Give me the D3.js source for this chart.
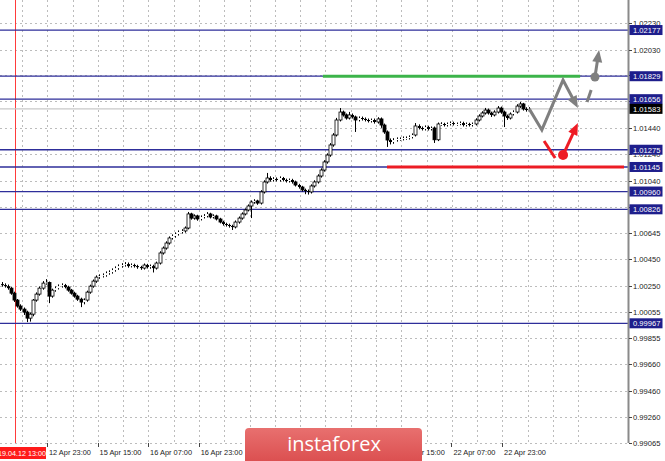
<!DOCTYPE html>
<html><head><meta charset="utf-8">
<script src="https://cdn.jsdelivr.net/npm/d3@7"></script>
<style>html,body{margin:0;padding:0;background:#fff;overflow:hidden}</style>
</head><body><svg id="c" width="665" height="461"></svg>
<script>
// ---- DATA ----
const opens=[1.00262,1.00255,1.00247,1.00232,1.00194,1.00142,1.00097,1.00074,1.00051,1.00006,
1.00036,1.00142,1.00187,1.00232,1.00270,1.00275,1.00172,1.00217,1.00232,1.00247,
1.00255,1.00240,1.00217,1.00194,1.00172,1.00149,1.00127,1.00142,1.00202,1.00247,
1.00285,1.00315,1.00323,1.00330,1.00345,1.00353,1.00368,1.00383,1.00398,1.00406,
1.00413,1.00398,1.00406,1.00398,1.00391,1.00383,1.00406,1.00391,1.00398,1.00383,
1.00421,1.00497,1.00534,1.00572,1.00610,1.00625,1.00640,1.00655,1.00663,1.00685,
1.00791,1.00760,1.00776,1.00753,1.00768,1.00776,1.00791,1.00768,1.00776,1.00753,
1.00730,1.00715,1.00708,1.00700,1.00693,1.00730,1.00760,1.00791,1.00821,1.00851,
1.00881,1.00889,1.00873,1.00957,1.01032,1.01062,1.01047,1.01055,1.01047,1.01062,
1.01047,1.01039,1.01047,1.01032,1.01009,1.00994,1.00972,1.00964,1.00957,1.01002,
1.01032,1.01077,1.01122,1.01183,1.01235,1.01311,1.01386,1.01499,1.01559,1.01537,
1.01514,1.01537,1.01522,1.01499,1.01514,1.01507,1.01499,1.01491,1.01499,1.01484,
1.01507,1.01461,1.01409,1.01348,1.01333,1.01348,1.01356,1.01356,1.01363,1.01363,
1.01371,1.01386,1.01454,1.01439,1.01431,1.01446,1.01431,1.01439,1.01350,1.01469,
1.01469,1.01461,1.01469,1.01476,1.01469,1.01469,1.01476,1.01461,1.01469,1.01461,
1.01469,1.01499,1.01529,1.01552,1.01574,1.01552,1.01537,1.01559,1.01589,1.01559,
1.01529,1.01514,1.01544,1.01559,1.01604,1.01620,1.01582,1.01574];
const closes=[1.00255,1.00247,1.00232,1.00194,1.00142,1.00097,1.00074,1.00051,1.00006,1.00036,
1.00142,1.00187,1.00232,1.00270,1.00275,1.00172,1.00217,1.00232,1.00247,1.00255,
1.00240,1.00217,1.00194,1.00172,1.00149,1.00127,1.00142,1.00202,1.00247,1.00285,
1.00315,1.00323,1.00330,1.00345,1.00353,1.00368,1.00383,1.00398,1.00406,1.00413,
1.00398,1.00406,1.00398,1.00391,1.00383,1.00406,1.00391,1.00398,1.00383,1.00421,
1.00497,1.00534,1.00572,1.00610,1.00625,1.00640,1.00655,1.00663,1.00685,1.00791,
1.00760,1.00776,1.00753,1.00768,1.00776,1.00791,1.00768,1.00776,1.00753,1.00730,
1.00715,1.00708,1.00700,1.00693,1.00730,1.00760,1.00791,1.00821,1.00851,1.00881,
1.00889,1.00873,1.00957,1.01032,1.01062,1.01047,1.01055,1.01047,1.01062,1.01047,
1.01039,1.01047,1.01032,1.01009,1.00994,1.00972,1.00964,1.00957,1.01002,1.01032,
1.01077,1.01122,1.01183,1.01235,1.01311,1.01386,1.01499,1.01559,1.01537,1.01514,
1.01537,1.01522,1.01499,1.01514,1.01507,1.01499,1.01491,1.01499,1.01484,1.01507,
1.01461,1.01409,1.01348,1.01333,1.01348,1.01356,1.01356,1.01363,1.01363,1.01371,
1.01386,1.01454,1.01439,1.01431,1.01446,1.01431,1.01439,1.01350,1.01469,1.01469,
1.01461,1.01469,1.01476,1.01469,1.01469,1.01476,1.01461,1.01469,1.01461,1.01469,
1.01499,1.01529,1.01552,1.01574,1.01552,1.01537,1.01559,1.01589,1.01559,1.01529,
1.01514,1.01544,1.01559,1.01604,1.01620,1.01582,1.01574,1.01583];
const highs=[1.00278,1.00268,1.00259,1.00240,1.00205,1.00150,1.00110,1.00086,1.00062,1.00048,
1.00150,1.00200,1.00245,1.00285,1.00300,1.00282,1.00228,1.00245,1.00260,1.00268,
1.00264,1.00250,1.00226,1.00205,1.00182,1.00160,1.00155,1.00213,1.00258,1.00297,
1.00328,1.00336,1.00343,1.00358,1.00366,1.00381,1.00396,1.00411,1.00420,1.00428,
1.00425,1.00418,1.00416,1.00408,1.00400,1.00418,1.00415,1.00410,1.00408,1.00432,
1.00510,1.00546,1.00585,1.00622,1.00637,1.00652,1.00667,1.00676,1.00697,1.00806,
1.00800,1.00788,1.00785,1.00780,1.00790,1.00805,1.00800,1.00788,1.00785,1.00762,
1.00740,1.00725,1.00718,1.00710,1.00742,1.00772,1.00803,1.00833,1.00863,1.00893,
1.00902,1.00898,1.00970,1.01045,1.01100,1.01075,1.01068,1.01066,1.01074,1.01070,
1.01057,1.01058,1.01056,1.01042,1.01018,1.01003,1.00982,1.00975,1.01014,1.01045,
1.01090,1.01135,1.01196,1.01248,1.01325,1.01400,1.01515,1.01589,1.01570,1.01548,
1.01560,1.01548,1.01532,1.01526,1.01525,1.01518,1.01510,1.01510,1.01510,1.01520,
1.01518,1.01472,1.01420,1.01360,1.01362,1.01368,1.01368,1.01375,1.01375,1.01383,
1.01398,1.01476,1.01466,1.01450,1.01458,1.01456,1.01450,1.01450,1.01480,1.01482,
1.01478,1.01480,1.01488,1.01486,1.01480,1.01488,1.01486,1.01480,1.01478,1.01480,
1.01512,1.01542,1.01565,1.01590,1.01585,1.01562,1.01572,1.01604,1.01600,1.01570,
1.01540,1.01556,1.01572,1.01618,1.01635,1.01628,1.01595,1.01596];
const lows=[1.00243,1.00236,1.00220,1.00182,1.00128,1.00085,1.00060,1.00030,0.99976,0.99980,
1.00020,1.00130,1.00175,1.00220,1.00258,1.00119,1.00160,1.00205,1.00222,1.00236,
1.00230,1.00205,1.00183,1.00160,1.00136,1.00089,1.00110,1.00130,1.00190,1.00235,
1.00272,1.00302,1.00312,1.00318,1.00333,1.00341,1.00356,1.00370,1.00386,1.00394,
1.00386,1.00388,1.00387,1.00378,1.00370,1.00372,1.00380,1.00378,1.00350,1.00372,
1.00410,1.00485,1.00522,1.00560,1.00598,1.00612,1.00628,1.00643,1.00650,1.00675,
1.00748,1.00748,1.00740,1.00742,1.00757,1.00765,1.00757,1.00757,1.00742,1.00720,
1.00703,1.00696,1.00688,1.00670,1.00682,1.00718,1.00748,1.00780,1.00810,1.00760,
1.00868,1.00860,1.00862,1.00945,1.01020,1.01035,1.01035,1.01036,1.01035,1.01036,
1.01028,1.01028,1.01020,1.00998,1.00982,1.00960,1.00940,1.00937,1.00945,1.00990,
1.01020,1.01065,1.01110,1.01170,1.01222,1.01298,1.01375,1.01488,1.01525,1.01502,
1.01503,1.01510,1.01409,1.01488,1.01495,1.01488,1.01480,1.01480,1.01472,1.01472,
1.01440,1.01395,1.01296,1.01315,1.01320,1.01336,1.01343,1.01345,1.01350,1.01352,
1.01360,1.01375,1.01428,1.01420,1.01420,1.01420,1.01420,1.01326,1.01340,1.01456,
1.01450,1.01450,1.01458,1.01458,1.01456,1.01460,1.01450,1.01450,1.01450,1.01450,
1.01458,1.01488,1.01518,1.01540,1.01540,1.01522,1.01526,1.01548,1.01546,1.01446,
1.01500,1.01503,1.01533,1.01548,1.01590,1.01570,1.01562,1.01565];

const levelValues=[1.02177,1.01829,1.01656,1.01275,1.01145,1.00960,1.00826,0.99967];
const currentPrice=1.01583;
const priceGrid=[1.02230,1.02030,1.01835,1.01640,1.01440,1.01240,1.01040,1.00845,1.00645,
1.00450,1.00250,1.00055,0.99855,0.99660,0.99460,0.99260,0.99065];
const priceLabels=[1.02230,1.02030,1.01440,1.01240,1.01040,1.00645,
1.00450,1.00250,1.00055,0.99855,0.99660,0.99460,0.99260,0.99065];
const timeLabels=["12 Apr 23:00","15 Apr 15:00","16 Apr 07:00","16 Apr 23:00","19 Apr 15:00","22 Apr 07:00","22 Apr 23:00"];
const timeTickIndex=[14.4,30.4,46.4,62.4,126.4,142.4,158.4];
const markerIndex=4.27, markerLabel="19.04.12 13:00";
const greenSegment=[[101.7,1.01829],[183.1,1.01829]];
const redSegment=[[122,1.01145],[197,1.01145]];
const grayPath=[[167,1.01583],[171,1.01424],[177.7,1.01800],[182.4,1.01589]];
const grayDash=[[185.3,1.01635],[186.6,1.01725]];
const grayDot=[187.8,1.01823], grayArrowEnd=[189.1,1.02026];
const redStroke=[[171.7,1.01341],[175.2,1.01213]];
const redDot=[177.7,1.01235], redArrowEnd=[182.4,1.01476];
const brand="instaforex";

// ---- CHART ----
const W=665,H=461, plotR=628, plotB=443;
const svg=d3.select("#c");
const x=d3.scaleLinear().domain([0,167]).range([1.5,1.5+167*3.16]);
const y=d3.scaleLinear().domain([0.99065,1.02230]).range([443,23]);
const gridIdx=d3.range(6.5,190,8);

const g=svg.append("g");
g.selectAll("line.vg").data(gridIdx.filter(i=>x(i)<plotR-2)).join("line")
 .attr("x1",d=>Math.round(x(d))+0.5).attr("x2",d=>Math.round(x(d))+0.5)
 .attr("y1",0).attr("y2",plotB).attr("stroke","#bcbcbc").attr("stroke-dasharray","2,3");
g.selectAll("line.hg").data(priceGrid).join("line")
 .attr("x1",0).attr("x2",plotR).attr("y1",d=>Math.round(y(d))+0.5).attr("y2",d=>Math.round(y(d))+0.5)
 .attr("stroke","#bcbcbc").attr("stroke-dasharray","2,3");

g.append("line").attr("x1",Math.round(x(markerIndex))+0.5).attr("x2",Math.round(x(markerIndex))+0.5)
 .attr("y1",0).attr("y2",plotB).attr("stroke","#ff3b3b").attr("stroke-width",1);

g.append("line").attr("x1",0).attr("x2",plotR).attr("y1",y(currentPrice)).attr("y2",y(currentPrice))
 .attr("stroke","#c8c8c8").attr("stroke-width",1.3);

g.selectAll("line.lv").data(levelValues).join("line")
 .attr("x1",0).attr("x2",plotR).attr("y1",d=>y(d)).attr("y2",d=>y(d))
 .attr("stroke","#2e2e9a").attr("stroke-width",1.3);

const seg=(s,c)=>g.append("line").attr("x1",x(s[0][0])).attr("x2",x(s[1][0]))
 .attr("y1",y(s[0][1])).attr("y2",y(s[1][1])).attr("stroke",c).attr("stroke-width",3);
seg(greenSegment,"#3cb44a");
seg(redSegment,"#ec1c24");

const bars=d3.range(closes.length).map(i=>({i,o:opens[i],h:highs[i],l:lows[i],c:closes[i]}));
const cg=g.append("g");
cg.selectAll("line.w").data(bars).join("line")
 .attr("x1",d=>Math.round(x(d.i))+0.5).attr("x2",d=>Math.round(x(d.i))+0.5)
 .attr("y1",d=>y(d.h)).attr("y2",d=>y(d.l)).attr("stroke","#000").attr("stroke-width",1);
cg.selectAll("rect").data(bars).join("rect")
 .attr("x",d=>Math.round(x(d.i))-1).attr("width",3)
 .attr("y",d=>y(Math.max(d.o,d.c))).attr("height",d=>Math.max(1,Math.abs(y(d.o)-y(d.c))))
 .attr("fill",d=>d.c>=d.o?"#fff":"#000").attr("stroke","#000").attr("stroke-width",d=>Math.abs(y(d.o)-y(d.c))>2?0.8:0);

function head(p1,p2,color,len,wid){
  const dx=p2[0]-p1[0], dy=p2[1]-p1[1], L=Math.hypot(dx,dy), ux=dx/L, uy=dy/L;
  const bx=p2[0]-ux*len, by=p2[1]-uy*len;
  g.append("path").attr("d",`M${p2[0]},${p2[1]}L${bx-uy*wid/2},${by+ux*wid/2}L${bx+uy*wid/2},${by-ux*wid/2}Z`).attr("fill",color);
  return [bx+ux*2,by+uy*2];
}
const P=d=>[x(d[0]),y(d[1])];
const gp=grayPath.map(P);
const gEnd=head(gp[2],gp[3],"#7f7f7f",12,10);
g.append("path").attr("d",d3.line()([...gp.slice(0,3),gEnd])).attr("fill","none")
 .attr("stroke","#7f7f7f").attr("stroke-width",3).attr("stroke-linejoin","miter");
g.append("path").attr("d",d3.line()(grayDash.map(P))).attr("stroke","#7f7f7f").attr("stroke-width",3);
const gd=P(grayDot), ga=P(grayArrowEnd);
const gaB=head(gd,ga,"#7f7f7f",12,10);
g.append("line").attr("x1",gd[0]).attr("y1",gd[1]).attr("x2",gaB[0]).attr("y2",gaB[1]).attr("stroke","#7f7f7f").attr("stroke-width",3);
g.append("circle").attr("cx",gd[0]).attr("cy",gd[1]).attr("r",4.5).attr("fill","#7f7f7f");
g.append("path").attr("d",d3.line()(redStroke.map(P))).attr("stroke","#ee1c25").attr("stroke-width",3);
const rd=P(redDot), ra=P(redArrowEnd);
const raB=head(rd,ra,"#ee1c25",12,10);
g.append("line").attr("x1",rd[0]).attr("y1",rd[1]).attr("x2",raB[0]).attr("y2",raB[1]).attr("stroke","#ee1c25").attr("stroke-width",3);
g.append("circle").attr("cx",rd[0]).attr("cy",rd[1]).attr("r",5).attr("fill","#ee1c25");

// right axis
svg.append("rect").attr("x",plotR).attr("y",0).attr("width",W-plotR).attr("height",H).attr("fill","#fff");
svg.append("line").attr("x1",plotR+0.5).attr("x2",plotR+0.5).attr("y1",0).attr("y2",plotB).attr("stroke","#8a8a8a").attr("stroke-width",2);
const font="'Liberation Sans', Arial, sans-serif";
const ax=svg.append("g");
ax.selectAll("line").data(priceGrid).join("line").attr("x1",plotR+1).attr("x2",plotR+4)
 .attr("y1",d=>Math.round(y(d))+0.5).attr("y2",d=>Math.round(y(d))+0.5).attr("stroke","#444");
ax.selectAll("text").data(priceLabels).join("text").attr("x",633).attr("y",d=>y(d)+3)
 .attr("font-family",font).attr("font-size",7.6).attr("fill","#222").text(d=>d.toFixed(5));
const boxes=levelValues.map(v=>({v,c:"#1e1e8c"})).concat([{v:currentPrice,c:"#000"}]);
const bx=svg.append("g");
bx.selectAll("rect").data(boxes).join("rect").attr("x",plotR+1.5).attr("y",d=>y(d.v)-5).attr("width",33).attr("height",10).attr("fill",d=>d.c);
bx.selectAll("text").data(boxes).join("text").attr("x",633).attr("y",d=>y(d.v)+3)
 .attr("font-family",font).attr("font-size",7.6).attr("fill","#fff").text(d=>d.v.toFixed(5));

// bottom axis
const bt=svg.append("g");
bt.selectAll("line").data(timeTickIndex).join("line").attr("x1",d=>Math.round(x(d))+0.5).attr("x2",d=>Math.round(x(d))+0.5)
 .attr("y1",plotB).attr("y2",plotB+4).attr("stroke","#444");
bt.selectAll("text").data(timeLabels).join("text").attr("x",(d,i)=>x(timeTickIndex[i])+2).attr("y",455)
 .attr("font-family",font).attr("font-size",7.4).attr("fill","#222").text(d=>d);
const mx=x(markerIndex);
svg.append("rect").attr("x",mx-31).attr("y",447).attr("width",62).attr("height",12).attr("fill","#ff1a1a");
svg.append("text").attr("x",46).attr("y",455.5).attr("text-anchor","end").attr("font-family",font)
 .attr("font-size",7.2).attr("fill","#fff").text(markerLabel);

// logo
const defs=svg.append("defs");
const lg=defs.append("linearGradient").attr("id","lg").attr("x1",0).attr("x2",0).attr("y1",0).attr("y2",1);
lg.append("stop").attr("offset",0).attr("stop-color","#e8706f");
lg.append("stop").attr("offset",1).attr("stop-color","#d9494a");
svg.append("rect").attr("x",245).attr("y",428).attr("width",177).attr("height",40).attr("rx",4).attr("fill","url(#lg)");
svg.append("text").attr("x",334).attr("y",451).attr("text-anchor","middle").attr("font-family","'Open Sans', sans-serif")
 .attr("font-size",20).attr("fill","#fff").text(brand);
</script></body></html>
